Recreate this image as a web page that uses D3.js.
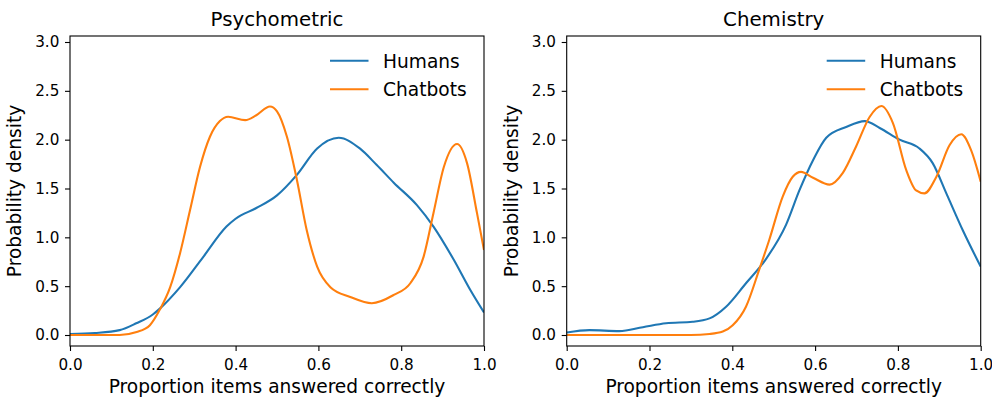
<!DOCTYPE html>
<html>
<head>
<meta charset="utf-8">
<script src="https://cdn.jsdelivr.net/npm/d3@7"></script>
<style>
  body { margin: 0; background: #fff; }
  svg { font-family: "DejaVu Sans", sans-serif; }
</style>
</head>
<body>
<div id="graph"></div>
<script>
var W = 992, H = 397;

// panel titles and series names
var panelTitles = ["Psychometric", "Chemistry"];
var seriesNames = ["Humans", "Chatbots"];
var seriesColors = ["#1f77b4", "#ff7f0e"];
var xTicks = [0, 0.2, 0.4, 0.6, 0.8, 1.0];
var yTicks = [0, 0.5, 1.0, 1.5, 2.0, 2.5, 3.0];

// Psychometric, humans: [proportion, density]
var psychHumans = [
  [0.0, 0.01], [0.06, 0.02], [0.12, 0.05], [0.16, 0.12], [0.2, 0.21], [0.217, 0.27],
  [0.266, 0.49], [0.322, 0.80], [0.378, 1.11], [0.40, 1.19], [0.45, 1.30],
  [0.50, 1.43], [0.548, 1.64], [0.597, 1.91], [0.649, 2.02], [0.70, 1.91],
  [0.741, 1.74], [0.782, 1.56], [0.838, 1.33], [0.878, 1.11], [0.927, 0.77],
  [0.967, 0.46], [1.0, 0.23]
];
var psychBots = [
  [0.0, 0.0], [0.12, 0.0], [0.161, 0.03], [0.193, 0.10], [0.217, 0.26],
  [0.242, 0.49], [0.266, 0.84], [0.29, 1.28], [0.314, 1.72], [0.338, 2.03],
  [0.362, 2.19], [0.382, 2.235], [0.423, 2.20], [0.45, 2.25], [0.483, 2.34],
  [0.50, 2.29], [0.524, 2.03], [0.548, 1.59], [0.572, 1.07], [0.597, 0.70],
  [0.629, 0.49], [0.677, 0.39], [0.729, 0.325], [0.782, 0.41], [0.822, 0.53],
  [0.854, 0.80], [0.878, 1.25], [0.903, 1.72], [0.935, 1.955], [0.959, 1.76],
  [0.983, 1.25], [1.0, 0.87]
];
// Chemistry
var chemHumans = [
  [0.0, 0.025], [0.055, 0.05], [0.127, 0.04], [0.184, 0.08], [0.24, 0.12],
  [0.304, 0.135], [0.345, 0.17], [0.385, 0.29], [0.433, 0.53], [0.48, 0.77],
  [0.53, 1.13], [0.562, 1.48], [0.595, 1.79], [0.627, 2.02], [0.675, 2.13],
  [0.72, 2.19], [0.756, 2.12], [0.804, 2.00], [0.852, 1.91], [0.884, 1.76],
  [0.917, 1.45], [0.957, 1.07], [1.0, 0.70]
];
var chemBots = [
  [0.0, 0.0], [0.30, 0.0], [0.345, 0.01], [0.377, 0.035], [0.401, 0.10],
  [0.433, 0.29], [0.465, 0.67], [0.489, 0.97], [0.522, 1.42], [0.546, 1.62],
  [0.566, 1.67], [0.595, 1.61], [0.635, 1.54], [0.667, 1.66], [0.699, 1.93],
  [0.732, 2.235], [0.76, 2.345], [0.788, 2.17], [0.82, 1.69], [0.844, 1.48],
  [0.864, 1.45], [0.893, 1.62], [0.925, 1.945], [0.953, 2.055], [0.977, 1.89],
  [1.0, 1.57]
];

var panels = [
  { title: panelTitles[0], left: 70, series: [psychHumans, psychBots] },
  { title: panelTitles[1], left: 566.7, series: [chemHumans, chemBots] }
];

var plotW = 414, plotTop = 36, plotBottom = 346;

var svg = d3.select("#graph").append("svg")
  .attr("width", W).attr("height", H);

panels.forEach(function(p, i) {
  var x = d3.scaleLinear().domain([0, 1]).range([p.left, p.left + plotW]);
  var y = d3.scaleLinear().domain([-0.1126, 3.0614]).range([plotBottom, plotTop]);

  svg.append("clipPath").attr("id", "clip" + i)
    .append("rect").attr("x", p.left).attr("y", plotTop)
    .attr("width", plotW).attr("height", plotBottom - plotTop);

  var line = d3.line()
    .x(function(d) { return x(d[0]); })
    .y(function(d) { return y(d[1]); })
    .curve(d3.curveMonotoneX);

  var g = svg.append("g").attr("clip-path", "url(#clip" + i + ")");
  p.series.forEach(function(s, k) {
    g.append("path").datum(s)
      .attr("fill", "none")
      .attr("stroke", seriesColors[k])
      .attr("stroke-width", 2.1)
      .attr("d", line);
  });

  var xAxis = svg.append("g")
    .attr("transform", "translate(0," + plotBottom + ")")
    .call(d3.axisBottom(x).tickValues(xTicks).tickFormat(d3.format(".1f"))
      .tickSize(5).tickPadding(8.3));
  var yAxis = svg.append("g")
    .attr("transform", "translate(" + p.left + ",0)")
    .call(d3.axisLeft(y).tickValues(yTicks).tickFormat(d3.format(".1f"))
      .tickSize(5).tickPadding(5.7));
  [xAxis, yAxis].forEach(function(a) {
    a.select(".domain").remove();
    a.selectAll("line").attr("stroke", "#000").attr("stroke-width", 1.1);
    a.selectAll("text").attr("font-size", 15.2).attr("fill", "#000")
      .attr("font-family", "DejaVu Sans");
  });

  svg.append("rect")
    .attr("x", p.left).attr("y", plotTop)
    .attr("width", plotW).attr("height", plotBottom - plotTop)
    .attr("fill", "none").attr("stroke", "#000").attr("stroke-width", 1.1);

  svg.append("text")
    .attr("x", p.left + plotW / 2).attr("y", 26)
    .attr("text-anchor", "middle").attr("font-size", 19.8)
    .text(p.title);

  svg.append("text")
    .attr("x", p.left + plotW / 2).attr("y", 393.3)
    .attr("text-anchor", "middle").attr("font-size", 18.6)
    .text("Proportion items answered correctly");

  svg.append("text")
    .attr("transform", "translate(" + (p.left - 49) + "," + ((plotTop + plotBottom) / 2) + ") rotate(-90)")
    .attr("text-anchor", "middle").attr("font-size", 18.6)
    .text("Probability density");

  var lx = p.left + plotW - 154;
  seriesNames.forEach(function(name, k) {
    var ly = 60.7 + k * 28.6;
    svg.append("line")
      .attr("x1", lx).attr("x2", lx + 38.5)
      .attr("y1", ly).attr("y2", ly)
      .attr("stroke", seriesColors[k]).attr("stroke-width", 2.1);
    svg.append("text")
      .attr("x", lx + 53).attr("y", ly + 6.8)
      .attr("font-size", 18.6)
      .text(name);
  });
});
</script>
</body>
</html>
